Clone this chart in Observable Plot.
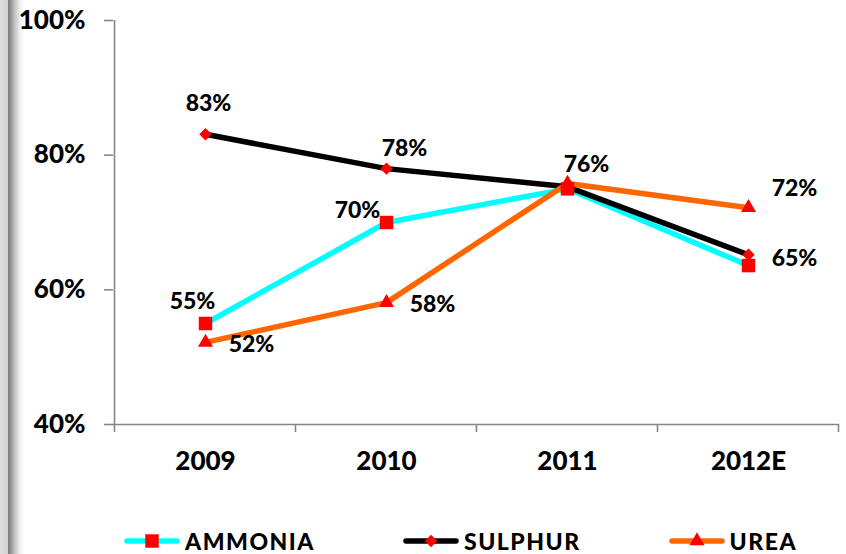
<!DOCTYPE html>
<html><head><meta charset="utf-8">
<script src="https://cdn.jsdelivr.net/npm/d3@7"></script>
<script src="https://cdn.jsdelivr.net/npm/@observablehq/plot@0.6"></script>
<style>
body{margin:0;background:#fff;}
#wrap{position:relative;width:846px;height:554px;overflow:hidden;font-family:Lato,"DejaVu Sans",sans-serif;font-weight:900;background:#fff;}
#edge{position:absolute;left:0;top:0;width:24px;height:554px;background:linear-gradient(to right,#dedede 0,#d2d2d2 8px,#7a7a7a 8px,#979797 11px,#c4c4c4 15px,#f0f0f0 20px,#fff 24px);z-index:0;}
#chart{position:absolute;left:0;top:0;z-index:1;}
#legend{position:absolute;left:124px;top:529px;height:24px;display:flex;align-items:center;gap:88px;z-index:1;}
.item{display:flex;align-items:center;gap:5px;font-size:23px;letter-spacing:1.5px;color:#000;line-height:24px;height:24px;}
</style></head>
<body>
<div id="wrap"><div id="edge"></div><div id="chart"></div><div id="legend"></div></div>
<script>
const years = ["2009", "2010", "2011", "2012E"];
const seriesNames = ["AMMONIA", "SULPHUR", "UREA"];
const ammonia = [55, 70, 75, 63.6];
const sulphur = [83.1, 78, 75.3, 65.2];
const urea = [52.2, 58.1, 75.8, 72.2];
const yTicks = [40, 60, 80, 100];

const seriesValues = {AMMONIA: ammonia, SULPHUR: sulphur, UREA: urea};
const lineColors = ["#00FFFF", "#000000", "#FF6600"];
const symbols = {AMMONIA: ["square", 7.6], SULPHUR: ["diamond2", 5.6], UREA: ["triangle", 5.6]};
const markerColor = "#FF0000";

const rows = seriesNames.flatMap(s => years.map((y, i) => ({series: s, year: y, value: seriesValues[s][i]})));
const find = (s, y) => rows.filter(r => r.series === s && r.year === y);

// label placements (style only)
const labelPlacement = [
  ["SULPHUR", "2009", 3, -31],
  ["SULPHUR", "2010", 18, -20],
  ["UREA", "2011", 19, -19],
  ["UREA", "2012E", 46, -19],
  ["SULPHUR", "2012E", 46, 4],
  ["AMMONIA", "2010", -29, -12],
  ["AMMONIA", "2009", -13, -22],
  ["UREA", "2009", 46, 2],
  ["UREA", "2010", 46, 2]
];

const axisGrey = "#868686";

function frameTicks(index, scales, values, dims) {
  const x = scales.x, y = scales.y;
  const step = x(years[1]) - x(years[0]);
  const g = d3.create("svg:g").attr("stroke", axisGrey).attr("stroke-width", 1.6).attr("fill", "none");
  const x0 = x(years[0]) - step / 2;
  const yTop = y(100), yBot = y(40);
  g.append("line").attr("x1", x0).attr("x2", x0).attr("y1", yTop).attr("y2", yBot + 8);
  years.forEach(yr => {
    const xe = x(yr) + step / 2;
    g.append("line").attr("x1", xe).attr("x2", xe).attr("y1", yBot).attr("y2", yBot + 8);
  });
  return g.node();
}

const chart = Plot.plot({
  width: 846,
  height: 528,
  marginLeft: 113,
  marginRight: 7,
  marginTop: 20,
  marginBottom: 104,
  style: {fontFamily: "Lato, 'DejaVu Sans', sans-serif", fontWeight: 900, background: "transparent", color: "#000"},
  x: {type: "point", domain: years, padding: 0.5, label: null},
  y: {domain: [40, 100], label: null},
  color: {domain: seriesNames, range: lineColors},
  marks: [
    Plot.ruleY([40], {stroke: axisGrey, strokeWidth: 1.6}),
    frameTicks,
    Plot.axisY({ticks: yTicks, tickFormat: d => d + "%", tickSize: 9, tickPadding: 19, stroke: axisGrey, strokeWidth: 1.6, fill: "#000", fontSize: 26, fontWeight: 900, label: null}),
    Plot.axisX({tickSize: 0, tickPadding: 27, fontSize: 26, fontWeight: 900, fill: "#000", label: null}),
    Plot.line(rows, {x: "year", y: "value", z: "series", stroke: "series", strokeWidth: 5.5, strokeLinejoin: "round"}),
    ...seriesNames.map(s => Plot.dot(rows.filter(r => r.series === s), {x: "year", y: "value", symbol: () => symbols[s][0], r: symbols[s][1], fill: markerColor, stroke: "none"})),
    ...labelPlacement.map(([s, y, dx, dy]) => Plot.text(find(s, y), {x: "year", y: "value", text: d => Math.round(d.value) + "%", dx, dy, fontSize: 23, fontWeight: 900, fill: "#000"}))
  ]
});
document.getElementById("chart").appendChild(chart);

// legend
const legend = d3.select("#legend");
seriesNames.forEach((s, i) => {
  const item = legend.append("div").attr("class", "item");
  const sw = item.append("svg").attr("width", 56).attr("height", 18);
  sw.append("line").attr("x1", 3).attr("x2", 53).attr("y1", 9).attr("y2", 9)
    .attr("stroke", lineColors[i]).attr("stroke-width", 5.5).attr("stroke-linecap", "round");
  const symMap = {square: d3.symbolSquare, diamond2: d3.symbolDiamond2, triangle: d3.symbolTriangle};
  const [sym, r] = symbols[s];
  sw.append("path").attr("transform", "translate(28,9)")
    .attr("d", d3.symbol(symMap[sym], r * r * Math.PI)()).attr("fill", markerColor);
  item.append("span").text(s);
});
</script>
</body></html>
